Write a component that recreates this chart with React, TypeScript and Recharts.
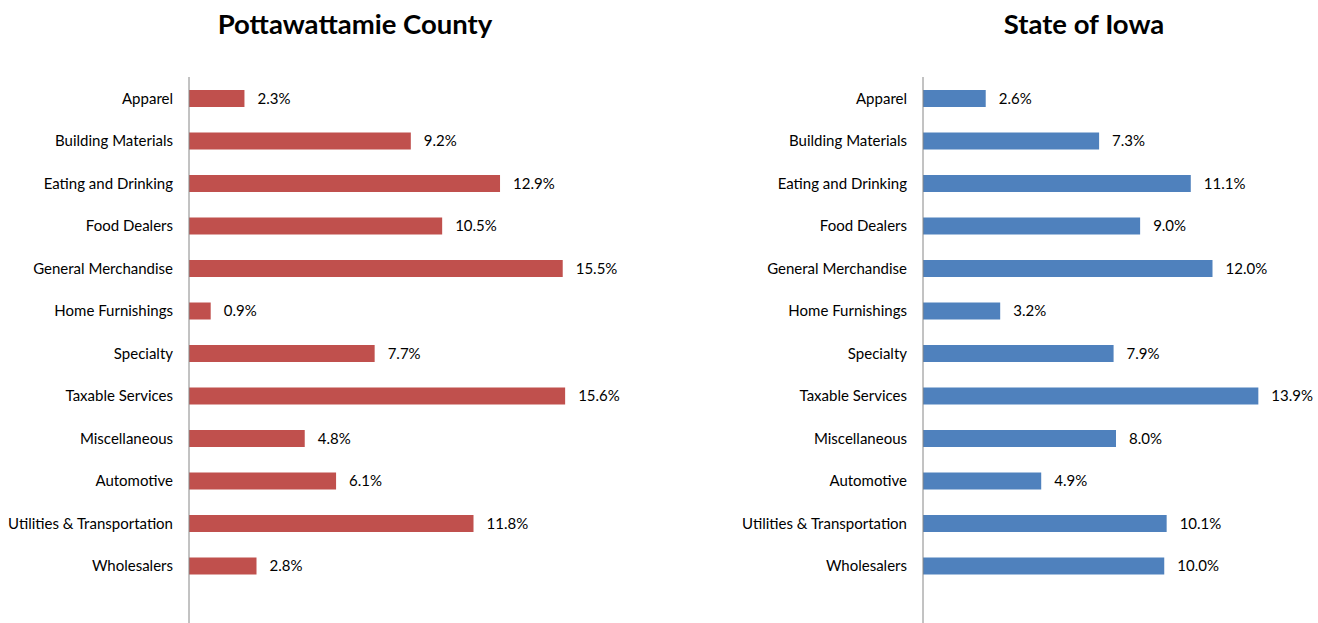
import React from "react";
import { BarChart, Bar, XAxis, YAxis, LabelList } from "recharts";

const categories = [
  "Apparel",
  "Building Materials",
  "Eating and Drinking",
  "Food Dealers",
  "General Merchandise",
  "Home Furnishings",
  "Specialty",
  "Taxable Services",
  "Miscellaneous",
  "Automotive",
  "Utilities & Transportation",
  "Wholesalers",
];
const countyValues = [2.3, 9.2, 12.9, 10.5, 15.5, 0.9, 7.7, 15.6, 4.8, 6.1, 11.8, 2.8];
const iowaValues = [2.6, 7.3, 11.1, 9.0, 12.0, 3.2, 7.9, 13.9, 8.0, 4.9, 10.1, 10.0];
const titles = ["Pottawattamie County", "State of Iowa"];

const countyData = categories.map((c, i) => ({ name: c, value: countyValues[i] }));
const iowaData = categories.map((c, i) => ({ name: c, value: iowaValues[i] }));

const FONT = "Lato, 'Open Sans', sans-serif";

function Panel({ data, color, max, left, ml, mr }: any) {
  return (
    <div style={{ position: "absolute", left, top: 0 }}>
      <BarChart
        width={659}
        height={623}
        data={data}
        layout="vertical"
        margin={{ top: 77, right: mr, bottom: 0, left: ml }}
      >
        <XAxis type="number" domain={[0, max]} hide />
        <YAxis
          type="category"
          dataKey="name"
          width={180}
          tickSize={0}
          tickMargin={16}
          axisLine={{ stroke: "#868686", strokeWidth: 1 }}
          tickLine={false}
          padding={{ top: 0, bottom: 36 }}
          interval={0}
          tick={{ fill: "#000", fontSize: 15, fontFamily: FONT }}
        />
        <Bar dataKey="value" fill={color} barSize={17} isAnimationActive={false}>
          <LabelList
            dataKey="value"
            position="right"
            offset={13}
            formatter={(v: any) => `${Number(v).toFixed(1)}%`}
            style={{ fill: "#000", fontSize: 15, fontFamily: FONT }}
          />
        </Bar>
      </BarChart>
    </div>
  );
}

export default function App() {
  return (
    <div style={{ position: "absolute", left: 0, top: 0, width: 1318, height: 623, background: "#fff", fontFamily: FONT }}>
      <div style={{ position: "absolute", left: 355 - 200, top: 6, width: 400, textAlign: "center", fontSize: 27.5, lineHeight: "36px", fontWeight: 700, color: "#000" }}>
        {titles[0]}
      </div>
      <div style={{ position: "absolute", left: 1084 - 200, top: 6, width: 400, textAlign: "center", fontSize: 27.5, lineHeight: "36px", fontWeight: 700, color: "#000" }}>
        {titles[1]}
      </div>
      <Panel data={countyData} color="#C0504D" max={18} left={0} ml={9} mr={36} />
      <Panel data={iowaData} color="#4F81BD" max={16} left={659} ml={84} mr={9} />
    </div>
  );
}
